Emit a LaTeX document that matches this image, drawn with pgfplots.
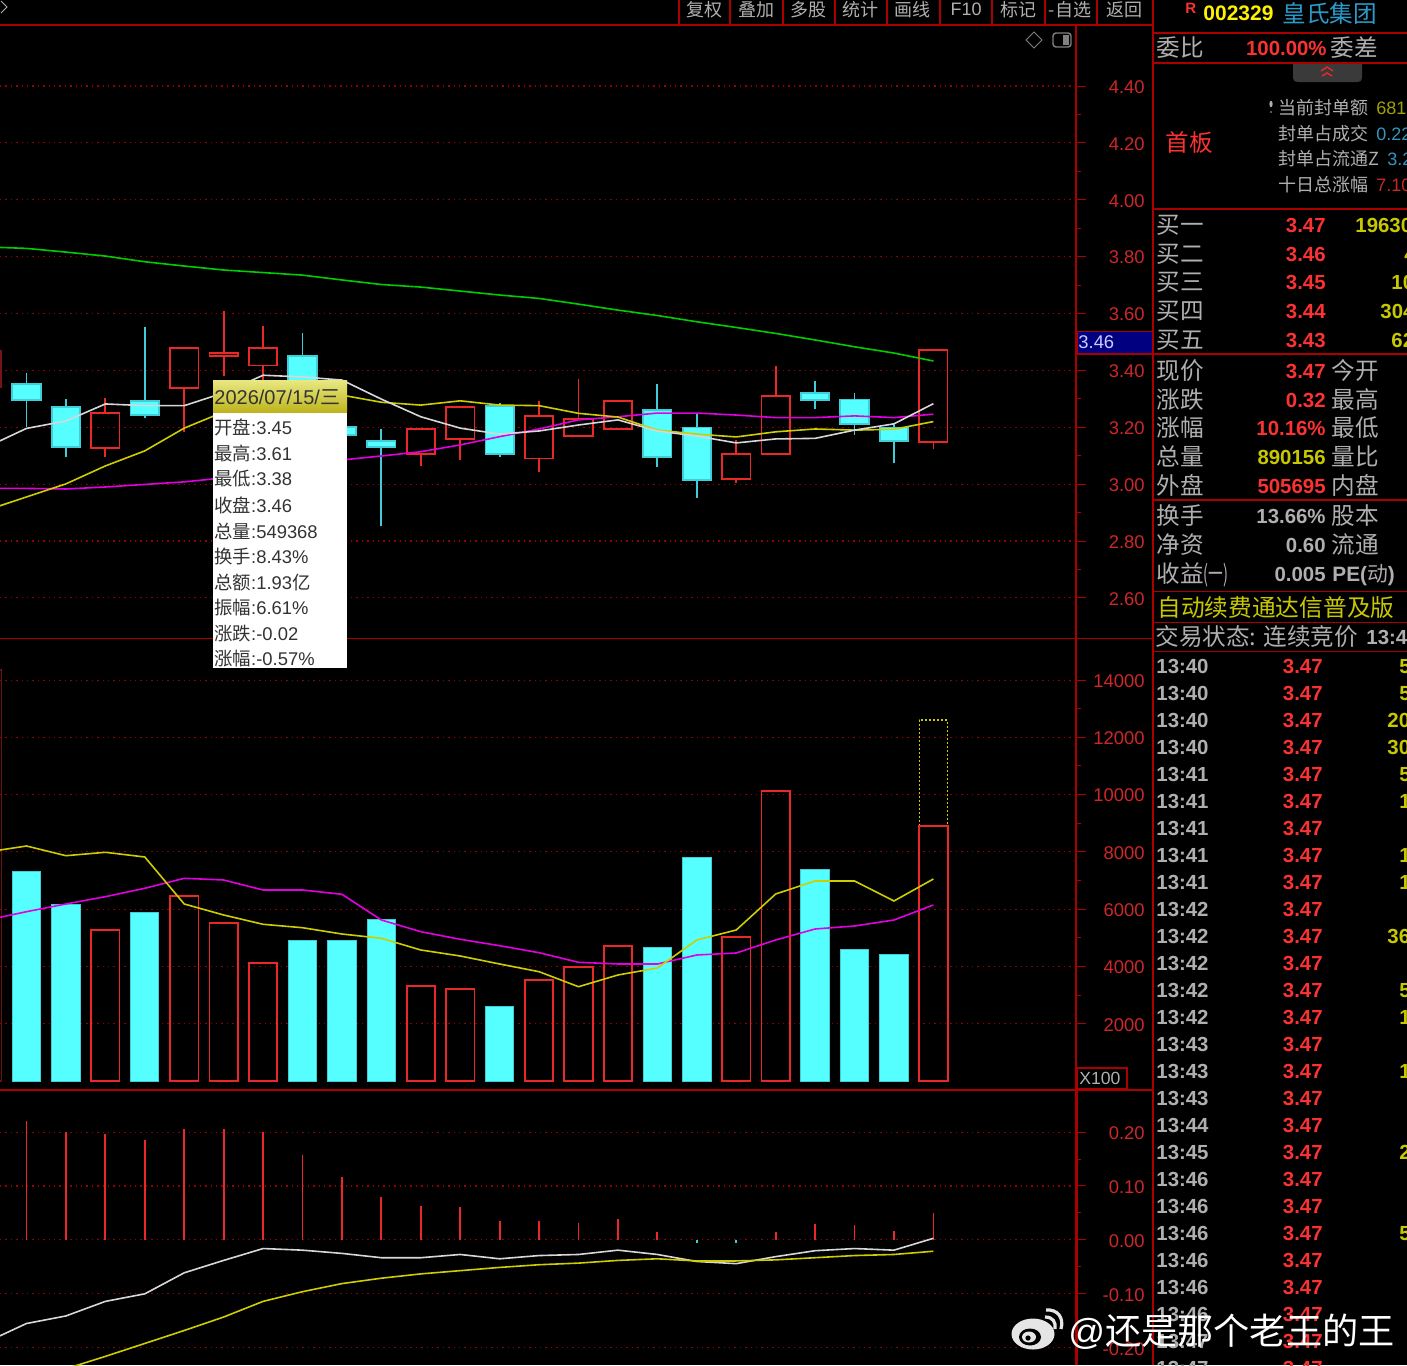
\documentclass[border=0pt]{standalone}
\usepackage{fontspec}
\usepackage{graphicx}
\usepackage{pgfplots}
\usepackage{pgfplotstable}
\pgfplotsset{compat=1.18}
\usepgfplotslibrary{statistics}
\setmainfont{Liberation Sans}
\newfontfamily\cjk{Noto Sans CJK SC}
\definecolor{panelred}{RGB}{170,0,0}
\definecolor{griddot}{RGB}{150,0,0}
\definecolor{ticktxt}{RGB}{205,40,40}
\definecolor{up}{RGB}{235,40,40}
\definecolor{dn}{RGB}{85,255,255}
\definecolor{dnw}{RGB}{65,205,215}
\definecolor{txtgray}{RGB}{175,175,175}
\definecolor{valred}{RGB}{250,50,50}
\definecolor{valyel}{RGB}{200,200,0}
\definecolor{maY}{RGB}{205,205,0}
\definecolor{maM}{RGB}{225,0,225}
\definecolor{maG}{RGB}{0,205,0}
\definecolor{maW}{RGB}{215,215,215}
\definecolor{tabgray}{RGB}{58,58,58}
\pgfplotstableread{
i white yellow magenta green
-1 3.131 2.909 2.985 3.834
0 3.196 2.955 2.985 3.829
1 3.222 3.001 2.983 3.816
2 3.282 3.064 2.990 3.802
3 3.276 3.117 2.999 3.782
4 3.276 3.197 3.008 3.767
5 3.321 3.254 3.022 3.753
6 3.383 3.303 3.043 3.744
7 3.377 3.313 3.057 3.735
8 3.366 3.313 3.085 3.718
9 3.299 3.288 3.099 3.702
10 3.237 3.278 3.114 3.693
11 3.197 3.293 3.138 3.679
12 3.176 3.278 3.167 3.665
13 3.187 3.276 3.194 3.653
14 3.208 3.249 3.226 3.633
15 3.226 3.236 3.237 3.612
16 3.187 3.190 3.250 3.593
17 3.169 3.176 3.250 3.571
18 3.145 3.166 3.243 3.551
19 3.159 3.184 3.234 3.530
20 3.161 3.194 3.234 3.507
21 3.190 3.190 3.240 3.483
22 3.212 3.193 3.234 3.461
23 3.283 3.220 3.246 3.433
}\priceMA
\pgfplotstableread{
i yellow magenta
-1 7997 5622
0 8206 5912
1 7867 6181
2 7986 6436
3 7822 6729
4 6181 7078
5 5797 7019
6 5472 6670
7 5353 6670
8 5133 6520
9 4983 5622
10 4575 5214
11 4365 4948
12 4086 4725
13 3817 4480
14 3293 4145
15 3702 4086
16 3946 4086
17 4924 4400
18 5273 4470
19 6530 4924
20 6984 5308
21 6984 5413
22 6286 5622
23 7054 6146
}\volMA
\pgfplotstableread{
i dif
-1 -0.189
0 -0.155
1 -0.141
2 -0.114
3 -0.100
4 -0.061
5 -0.038
6 -0.016
7 -0.019
8 -0.025
9 -0.033
10 -0.033
11 -0.027
12 -0.035
13 -0.029
14 -0.027
15 -0.019
16 -0.027
17 -0.040
18 -0.044
19 -0.031
20 -0.020
21 -0.016
22 -0.019
23 0.003
}\difT
\pgfplotstableread{
i dea
1 -0.239
2 -0.216
3 -0.192
4 -0.168
5 -0.143
6 -0.114
7 -0.096
8 -0.081
9 -0.071
10 -0.063
11 -0.057
12 -0.051
13 -0.046
14 -0.043
15 -0.038
16 -0.035
17 -0.039
18 -0.039
19 -0.037
20 -0.033
21 -0.029
22 -0.027
23 -0.021
}\deaT
\pgfplotsset{
 panel/.style={
  scale only axis, width=538pt, xmin=-0.672, xmax=26.617,
  axis x line=none, axis y line*=right,
  axis line style={panelred,line width=0.8pt},
  ymajorgrids, major grid style={griddot,line width=0.55pt,dash pattern=on 0.7pt off 2pt},
  tick align=outside, major tick length=5pt, minor tick length=2.5pt,
  tick style={panelred,line width=0.5pt}, minor y tick num=1,
  scaled y ticks=false, anchor=north west,
  tick label style={font=\fontsize{9.2pt}{10pt}\selectfont, text=ticktxt},
  yticklabel style={anchor=east, inner xsep=0pt, xshift=29.5pt, yshift=-0.5pt, /pgf/number format/.cd, fixed, fixed zerofill, precision=2, 1000 sep={}, assume math mode=true},
 },
 boxplot/draw direction=y,
}
% candle: colour, fill, position, low, bottom, top, high
\newcommand{\Cand}[7]{\addplot[boxplot prepared={draw position=#3, lower whisker=#4, lower quartile=#5, median=#5, upper quartile=#6, upper whisker=#7, box extend=0.72, whisker extend=0}, draw=#1, fill=#2, solid, line width=0.9pt] coordinates {};}
% text: x, y, anchor, size, colour, text
\newcommand{\Lab}[6]{\node[anchor=#3,inner sep=0pt,text=#5] at ([yshift={-0.38*#4pt}]#1,#2) {\fontsize{#4pt}{#4pt}\selectfont #6};}
\begin{document}
\begin{tikzpicture}
\path[use as bounding box] (0pt,0pt) rectangle (703.5pt,-682.5pt);
\clip (0pt,0pt) rectangle (703.5pt,-682.5pt);
\fill[black] (0pt,0pt) rectangle (703.5pt,-682.5pt);
% price
\begin{axis}[panel, at={(0pt,-13pt)}, height=306pt, ymin=2.459, ymax=4.611, ytick={2.6,2.8,3.0,3.2,3.4,3.6,3.8,4.0,4.2,4.4}]
\Cand{up!50!black}{none}{-1}{3.30}{3.34}{3.47}{3.47}
\Cand{dnw}{dn}{0}{3.200}{3.296}{3.352}{3.390}
\Cand{dnw}{dn}{1}{3.094}{3.132}{3.272}{3.299}
\Cand{up}{none}{2}{3.094}{3.126}{3.251}{3.304}
\Cand{dnw}{dn}{3}{3.231}{3.243}{3.293}{3.553}
\Cand{up}{none}{4}{3.184}{3.339}{3.478}{3.483}
\Cand{up}{none}{5}{3.38}{3.45}{3.46}{3.61}
\Cand{up}{none}{6}{3.30}{3.417}{3.478}{3.557}
\Cand{dnw}{dn}{7}{3.30}{3.33}{3.452}{3.532}
\Cand{dnw}{dn}{8}{3.15}{3.174}{3.200}{3.24}
\Cand{dnw}{dn}{9}{2.853}{3.131}{3.152}{3.194}
\Cand{up}{none}{10}{3.064}{3.106}{3.193}{3.193}
\Cand{up}{none}{11}{3.085}{3.158}{3.272}{3.276}
\Cand{dnw}{dn}{12}{3.094}{3.106}{3.275}{3.284}
\Cand{up}{none}{13}{3.043}{3.090}{3.240}{3.293}
\Cand{up}{none}{14}{3.170}{3.170}{3.230}{3.369}
\Cand{up}{none}{15}{3.195}{3.195}{3.293}{3.293}
\Cand{dnw}{dn}{16}{3.062}{3.095}{3.261}{3.352}
\Cand{dnw}{dn}{17}{2.953}{3.016}{3.199}{3.249}
\Cand{up}{none}{18}{3.005}{3.017}{3.107}{3.155}
\Cand{up}{none}{19}{3.106}{3.106}{3.309}{3.415}
\Cand{dnw}{dn}{20}{3.263}{3.295}{3.321}{3.363}
\Cand{dnw}{dn}{21}{3.174}{3.211}{3.298}{3.321}
\Cand{dnw}{dn}{22}{3.074}{3.153}{3.199}{3.215}
\Cand{up}{none}{23}{3.123}{3.149}{3.472}{3.472}
\addplot[maG,line width=0.8pt] table[x=i,y=green]{\priceMA};
\addplot[maM,line width=0.8pt] table[x=i,y=magenta]{\priceMA};
\addplot[maY,line width=0.8pt] table[x=i,y=yellow]{\priceMA};
\addplot[maW,line width=0.8pt] table[x=i,y=white]{\priceMA};
\end{axis}
% volume
\begin{axis}[panel, at={(0pt,-319pt)}, height=226pt, ymin=-314, ymax=15468, ytick={2000,4000,6000,8000,10000,12000,14000},
 yticklabel style={/pgf/number format/.cd, precision=0}]
\addplot[boxplot prepared={draw position=23, lower whisker=8905, lower quartile=8905, median=8905, upper quartile=12606, upper whisker=12606, box extend=0.72, whisker extend=0}, draw=maY, fill=none, line width=0.6pt, dash pattern=on 1pt off 1pt] coordinates {};
\addplot[ybar,bar width=14.2pt,bar shift=0pt,draw=up!45!black,fill=none,line width=0.7pt] coordinates {(-1,14350)};
\addplot[ybar,bar width=14.2pt,bar shift=0pt,draw=up,fill=none,line width=0.9pt] coordinates {
(2,5262)(4,6460)(5,5517)(6,4110)(10,3317)(11,3213)(13,3527)(14,3991)(15,4714)(18,5028)(19,10127)(23,8905)};
\addplot[ybar,bar width=14.2pt,bar shift=0pt,draw=dnw,fill=dn,line width=0.5pt] coordinates {
(0,7323)(1,6170)(3,5901)(7,4913)(8,4913)(9,5647)(12,2595)(16,4679)(17,7787)(20,7368)(21,4575)(22,4435)};
\addplot[maM,line width=0.8pt] table[x=i,y=magenta]{\volMA};
\addplot[maY,line width=0.8pt] table[x=i,y=yellow]{\volMA};
\end{axis}
% MACD
\begin{axis}[panel, at={(0pt,-545pt)}, height=137.5pt, ymin=-0.232, ymax=0.278, ytick={-0.2,-0.1,0,0.1,0.2}]
\addplot[ycomb,up,line width=0.9pt] coordinates {
(0,0.221)(1,0.200)(2,0.197)(3,0.186)(4,0.205)(5,0.205)(6,0.201)(7,0.158)(8,0.116)(9,0.080)(10,0.063)(11,0.061)(12,0.035)(13,0.035)(14,0.032)(15,0.038)(16,0.015)(19,0.015)(20,0.029)(21,0.027)(22,0.016)(23,0.050)};
\addplot[ycomb,dnw,line width=0.9pt] coordinates {(17,-0.006)(18,-0.006)};
\addplot[maW,line width=0.8pt] table[x=i,y=dif]{\difT};
\addplot[maY,line width=0.8pt] table[x=i,y=dea]{\deaT};
\end{axis}
\begin{scope}[x=0.5pt,y=-0.5pt]
% frame lines
\draw[panelred,line width=0.8pt] (0,25)--(1153,25) (0,638.5)--(1153,638.5) (0,1090)--(1153,1090);
\draw[panelred,line width=0.8pt] (1153,0)--(1153,1365);
\draw[panelred,line width=0.8pt] (1076.5,25)--(1076.5,1090);
\draw[panelred,line width=1.1pt] (1077,1090)--(1077,1365);
\foreach \x in {679,730,783,835,887,940,992,1045,1097} \draw[panelred,line width=0.7pt] (\x,0)--(\x,25);
\foreach \y in {33,63,209,354,500,591.5,622.5,651.5} \draw[panelred,line width=0.8pt] (1153,\y)--(1407,\y);
% toolbar
\foreach \x/\t in {704/复权,756/叠加,808/多股,860/统计,912/画线,1018/标记,1124/返回} {\Lab{\x}{10}{base}{9}{txtgray}{\cjk\t}}
\Lab{966}{9}{base}{9}{txtgray}{F10}
\Lab{1070}{10}{base}{9}{txtgray}{\cjk -自选}
\draw[txtgray,line width=0.5pt] (1,1)--(7,7)--(1,13);
% icons
\draw[gray,line width=0.5pt] (1034,32)--(1042,40)--(1034,48)--(1026,40)--cycle;
\draw[gray,line width=0.7pt,rounded corners=1.5pt] (1053,33) rectangle (1071,47);
\fill[gray] (1063,35) rectangle (1069,45);
% last price box
\fill[blue!50!black,draw=panelred,line width=0.8pt] (1077,331.5) rectangle (1153,354);
\Lab{1078}{342}{base west}{9.2}{white!80!blue}{3.46}
% X100
\draw[panelred,line width=0.6pt] (1077,1068) rectangle (1127,1089);
\Lab{1079}{1078}{base west}{8.8}{txtgray}{X100}
% quote header
\Lab{1185}{8}{base west}{7.5}{valred}{\bfseries R}
\Lab{1203}{13}{base west}{10.5}{yellow}{\bfseries 002329}
\Lab{1282}{14}{base west}{11.8}{cyan!80!black}{\cjk 皇氏集团}
\Lab{1156}{48}{base west}{11.8}{txtgray}{\cjk 委比}
\Lab{1327}{48}{base east}{10.2}{valred}{\bfseries 100.00\%}
\Lab{1330}{48}{base west}{11.8}{txtgray}{\cjk 委差}
% tab
\fill[tabgray] (1293,64) -- (1293,78) .. controls (1293,81) and (1295,82) .. (1298,82) -- (1357,82) .. controls (1360,82) and (1362,81) .. (1362,78) -- (1362,64) -- cycle;
\draw[up,line width=0.7pt] (1321,71)--(1327,67)--(1333,71) (1322,76)--(1327,73)--(1332,76);
% first board
\Lab{1165}{143}{base west}{11.8}{valred}{\cjk 首板}
\fill[txtgray] (1271,104) ellipse (1.6 and 3.2);
\fill[txtgray] (1271,112) circle (0.8);
\Lab{1278}{108}{base west}{9}{txtgray}{\cjk 当前封单额}
\Lab{1278}{134}{base west}{9}{txtgray}{\cjk 封单占成交}
\Lab{1278}{159}{base west}{9}{txtgray}{\cjk 封单占流通Z}
\Lab{1278}{185}{base west}{9}{txtgray}{\cjk 十日总涨幅}
\Lab{1376}{108}{base west}{9}{valyel!80!black}{681}
\Lab{1376}{134}{base west}{9}{cyan!75!black}{0.22}
\Lab{1387}{159}{base west}{9}{cyan!75!black}{3.2}
\Lab{1376}{185}{base west}{9}{valred!80!black}{7.10}
% order book
\foreach \y/\a/\p/\v/\vx in {225/买一/3.47/19630/1355,254/买二/3.46/4/1404,282/买三/3.45/10/1391,311/买四/3.44/304/1380,340/买五/3.43/62/1391} {
 \Lab{1156}{\y}{base west}{11.8}{txtgray}{\cjk\a}
 \Lab{1326}{\y}{base east}{10.2}{valred}{\bfseries\p}
 \Lab{\vx}{\y}{base west}{10.2}{valyel}{\bfseries\v}
}
% stats
\foreach \y/\a/\b/\v/\c in {371/现价/今开/3.47/valred,400/涨跌/最高/0.32/valred,428/涨幅/最低/10.16\%/valred,457/总量/量比/890156/valyel,486/外盘/内盘/505695/valred} {
 \Lab{1156}{\y}{base west}{11.8}{txtgray}{\cjk\a}
 \Lab{1331}{\y}{base west}{11.8}{txtgray}{\cjk\b}
 \Lab{1326}{\y}{base east}{10.2}{\c}{\bfseries\v}
}
\foreach \y/\a/\b/\v in {516/换手/股本/13.66\%,545/净资/流通/0.60} {
 \Lab{1156}{\y}{base west}{11.8}{txtgray}{\cjk\a}
 \Lab{1331}{\y}{base west}{11.8}{txtgray}{\cjk\b}
 \Lab{1326}{\y}{base east}{10.2}{txtgray}{\bfseries\v}
}
\Lab{1156}{574}{base west}{11.8}{txtgray}{\cjk 收益\scalebox{0.62}[1]{(一)}}
\Lab{1326}{574}{base east}{10.2}{txtgray}{\bfseries 0.005}
\Lab{1332}{574}{base west}{10.4}{txtgray}{\bfseries PE({\cjk\mdseries 动})}
\Lab{1157}{607}{base west}{11.85}{valyel}{\cjk 自动续费通达信普及版}
\Lab{1155}{637}{base west}{11.8}{txtgray}{\cjk 交易状态: 连续竞价}
\Lab{1366}{637}{base west}{10.2}{txtgray}{\bfseries 13:4}
% trades
\foreach \y/\t/\v/\vx in {666/13:40/5/1399,693/13:40/5/1399,720/13:40/20/1387,747/13:40/30/1387,774/13:41/5/1399,801/13:41/1/1399,828/13:41//1399,855/13:41/1/1399,882/13:41/1/1399,909/13:42//1399,936/13:42/36/1387,963/13:42//1399,990/13:42/5/1399,1017/13:42/1/1399,1044/13:43//1399,1071/13:43/1/1399,1098/13:43//1399,1125/13:44//1399,1152/13:45/2/1399,1179/13:46//1399,1206/13:46//1399,1233/13:46/5/1399,1260/13:46//1399,1287/13:46//1399,1314/13:46//1399,1341/13:47//1399,1368/13:47//1399} {
 \Lab{1156}{\y}{base west}{10.2}{txtgray}{\bfseries\t}
 \Lab{1323}{\y}{base east}{10.2}{valred}{\bfseries 3.47}
 \Lab{\vx}{\y}{base west}{10.2}{valyel}{\bfseries\v}
}
% tooltip
\fill[white] (213,380) rectangle (347,668);
\shade[top color={rgb,255:red,232;green,232;blue,130},bottom color={rgb,255:red,190;green,180;blue,30}] (213,380) rectangle (347,412);
\Lab{214}{397}{base west}{10}{black!80}{2026/07/15/{\cjk 三}}
\foreach \y/\a/\v in {428/开盘/3.45,454/最高/3.61,479/最低/3.38,505/收盘/3.46,531/总量/549368,556/换手/8.43\%,582/总额/1.93{\cjk 亿},607/振幅/6.61\%,633/涨跌/-0.02,658/涨幅/-0.57\%} {
 \Lab{214}{\y}{base west}{9.2}{black!80}{{\cjk\a}:\v}
}
% watermark
\fill[black!10] (1033,1334) ellipse (21.5 and 15.5);
\fill[black] (1030,1337) ellipse (11 and 8.5);
\fill[black!10] (1029,1337) ellipse (7 and 5.5);
\fill[black] (1028,1338) circle (2.6);
\draw[black!10,line width=1.6pt] (1045,1317) .. controls (1053,1317) and (1056,1322) .. (1055,1329);
\draw[black!10,line width=1.6pt] (1046,1310) .. controls (1058,1309) and (1064,1318) .. (1061,1329);
\Lab{1068}{1331}{base west}{18.1}{white}{@{\cjk 还是那个老王的王}}
\end{scope}
\end{tikzpicture}
\end{document}
